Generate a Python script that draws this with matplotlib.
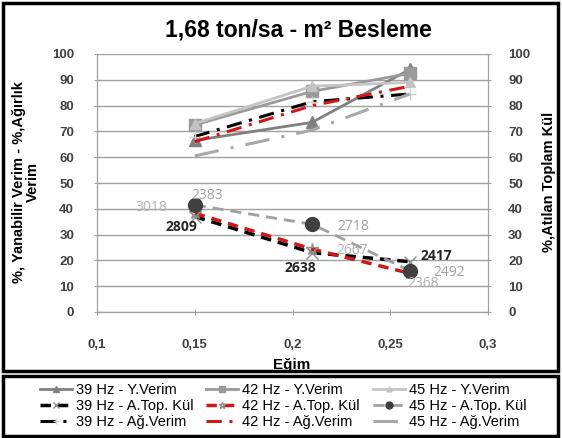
import matplotlib
matplotlib.use("Agg")
import matplotlib.pyplot as plt
from matplotlib.patches import Rectangle

# ---- data ----
egim = [0.15, 0.21, 0.26]
y39_verim = [66.5, 73.5, 94.0]
y42_verim = [72.5, 85.5, 92.5]
y45_verim = [73.0, 87.5, 89.0]
kul39 = [37.0, 23.0, 19.5]
kul42 = [38.3, 24.4, 15.0]
kul45 = [41.5, 34.0, 16.0]
ag39 = [68.0, 81.5, 84.5]
ag42 = [66.0, 80.0, 87.5]
ag45 = [60.5, 70.5, 84.5]
lab39 = ["2809", "2638", "2417"]
lab42 = ["3018", "2667", "2368"]
lab45 = ["2383", "2718", "2492"]
xticks = [0.1, 0.15, 0.2, 0.25, 0.3]
xticklabels = ["0,1", "0,15", "0,2", "0,25", "0,3"]
yticks = list(range(0, 101, 10))

plt.rcParams['font.family'] = ['Liberation Sans', 'DejaVu Sans']

fig = plt.figure(figsize=(5.62, 4.38), dpi=100)
ax = fig.add_axes([97/562, 1-312/438, (488-97)/562, (312-54)/438])
ax2 = ax.twinx()

# Y.Verim (solid)
l1, = ax.plot(egim, y39_verim, color='#808080', lw=2, marker='^', ms=8, label='39 Hz - Y.Verim')
l2, = ax.plot(egim, y42_verim, color='#9a9a9a', lw=2, marker='s', ms=9, label='42 Hz - Y.Verim')
l3, = ax.plot(egim, y45_verim, color='#c4c4c4', lw=2, marker='^', ms=7, label='45 Hz - Y.Verim')

# Ağ.Verim (dash-dot)
dd = (0, (5, 2.5, 1, 2.5))
l7, = ax.plot(egim, ag39, color='black', lw=2.2, ls=dd, marker='+', ms=9, mec='#d0d0d0', label='39 Hz - Ağ.Verim')
l8, = ax.plot(egim, ag42, color='#d01818', lw=2.2, ls=dd, label='42 Hz - Ağ.Verim')
l9, = ax.plot(egim, ag45, color='#a8a8a8', lw=2.2, ls=(0, (8, 4, 1, 4)), label='45 Hz - Ağ.Verim')

# A.Top. Kül (dashed, secondary axis)
l4, = ax2.plot(egim, kul39, color='black', lw=2.5, ls=(0, (3, 2)), marker='x', ms=8, mec='#909090', label='39 Hz - A.Top. Kül')
l5, = ax2.plot(egim, kul42, color='#d01818', lw=2.5, ls=(0, (3, 2)), marker='*', ms=9, mec='#909090', mfc='none', label='42 Hz - A.Top. Kül')
l6, = ax2.plot(egim, kul45, color='#a0a0a0', lw=2, ls=(0, (4, 2.5)), marker='o', ms=10, mfc='#404040', mec='#404040', label='45 Hz - A.Top. Kül')

# data labels
off39 = [(-13, -10), (-12, -15), (27, 6)]
off42 = [(-43, 6), (40, -1), (13, -10)]
off45 = [(12, 9), (41, -2), (39, -2)]
for xs, ys, labs, offs, col, wt in [(egim, kul39, lab39, off39, '#262626', 'bold'),
                                    (egim, kul42, lab42, off42, '#b0b0b0', 'normal'),
                                    (egim, kul45, lab45, off45, '#a0a0a0', 'normal')]:
    for x, y, t, o in zip(xs, ys, labs, offs):
        ax2.annotate(t, (x, y), xytext=o, textcoords='offset pixels', ha='center', va='center',
                     fontsize=10, color=col, fontweight=wt, family=['Open Sans', 'DejaVu Sans'])

for a in (ax, ax2):
    a.set_ylim(0, 100)
    a.set_yticks(yticks)
    for s in a.spines.values():
        s.set_color('#a0a0a0')
    a.spines['top'].set_visible(False)
ax.set_xlim(0.1, 0.3)
ax.set_xticks(xticks)
ax.set_xticklabels(xticklabels)
ax.yaxis.grid(True, color='#a0a0a0', lw=1)
ax.set_axisbelow(True)
ax.tick_params(axis='x', length=5, direction='inout', color='#a0a0a0', pad=17, labelsize=9.5, labelcolor='#404040')
ax.tick_params(axis='y', length=5, direction='inout', color='#a0a0a0', pad=14, labelsize=9.5, labelcolor='#404040')
ax2.tick_params(axis='y', length=5, direction='inout', color='#a0a0a0', pad=12, labelsize=9.5, labelcolor='#404040')
for lab in ax.get_xticklabels() + ax.get_yticklabels() + ax2.get_yticklabels():
    lab.set_fontweight('bold')

fig.text(298/562, 1-30/438, '1,68 ton/sa - m² Besleme', ha='center', va='center', fontsize=16.5, fontweight='bold')
fig.text(26/562, 1-182/438, '%, Yanabilir Verim - %,Ağırlık\nVerim', ha='center', va='center', rotation=90,
         fontsize=10.5, fontweight='bold', linespacing=1.05)
fig.text(549/562, 1-182/438, '%,Atılan Toplam Kül', ha='center', va='center', rotation=90,
         fontsize=10.5, fontweight='bold')
fig.text(292/562, 1-365/438, 'Eğim', ha='center', va='center', fontsize=11, fontweight='bold')

# frames
fig.patches.append(Rectangle((3/562, 1-371/438), 555/562, 368/438, transform=fig.transFigure,
                             fill=False, ec='black', lw=2.5))
fig.patches.append(Rectangle((3/562, 1-436/438), 555/562, 60/438, transform=fig.transFigure,
                             fill=False, ec='black', lw=2.5))

handles = [l1, l4, l7, l2, l5, l8, l3, l6, l9]
leg = fig.legend(handles=handles, ncol=3, loc='center', bbox_to_anchor=(283/562, 1-406/438),
                 frameon=False, fontsize=10.5, handlelength=2.2, handletextpad=0.25,
                 columnspacing=0.9, labelspacing=0.12, markerscale=0.5, borderpad=0.1)

fig.savefig('out.png', dpi=100)
